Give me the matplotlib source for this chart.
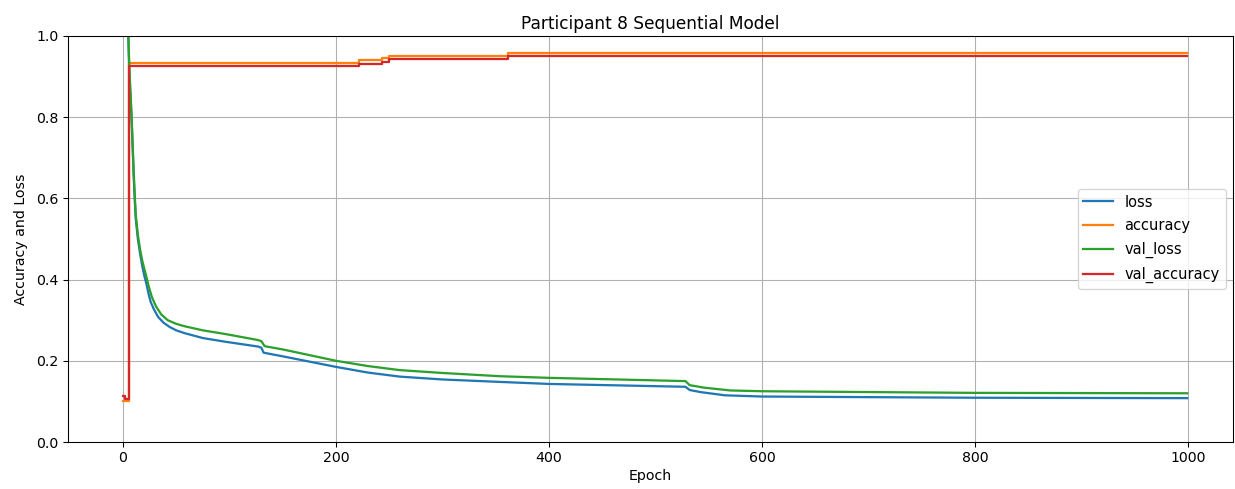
import matplotlib
matplotlib.use("Agg")
from matplotlib import pyplot as plt

loss_epochs = [0, 2, 4, 6, 8, 10, 11, 12, 14, 16, 18, 20, 22, 24, 26, 29, 33, 38,
               44, 50, 58, 75, 96, 127, 130, 132, 150, 200, 230, 260, 300, 354,
               400, 528, 532, 542, 565, 600, 800, 999]
loss = [2.6, 1.9, 1.1, 0.9, 0.8, 0.66, 0.6, 0.55, 0.5, 0.465, 0.435, 0.41, 0.39,
        0.365, 0.345, 0.327, 0.308, 0.294, 0.283, 0.275, 0.268, 0.256, 0.247, 0.235,
        0.232, 0.220, 0.211, 0.185, 0.171, 0.161, 0.154, 0.148, 0.143, 0.136,
        0.128, 0.123, 0.115, 0.112, 0.109, 0.108]

val_loss_epochs = [0, 2, 4, 6, 8, 10, 11, 12, 14, 16, 18, 20, 22, 24, 27, 31, 36,
                   42, 50, 58, 75, 96, 127, 130, 133, 150, 200, 230, 260, 300,
                   354, 400, 528, 532, 545, 570, 600, 800, 999]
val_loss = [2.5, 1.85, 1.1, 0.92, 0.81, 0.67, 0.61, 0.56, 0.51, 0.475, 0.448,
            0.427, 0.407, 0.385, 0.358, 0.334, 0.314, 0.3, 0.291, 0.285, 0.275,
            0.266, 0.251, 0.248, 0.236, 0.228, 0.200, 0.187, 0.177, 0.170,
            0.162, 0.158, 0.150, 0.140, 0.134, 0.127, 0.125, 0.121, 0.120]

acc_epochs = [0, 6, 222, 243, 250, 361, 999]
accuracy = [0.100, 0.934, 0.941, 0.945, 0.951, 0.957, 0.957]

val_acc_epochs = [0, 2, 6, 222, 243, 250, 361, 999]
val_accuracy = [0.113, 0.106, 0.926, 0.932, 0.936, 0.943, 0.951, 0.951]


def plot_history():
    plt.rcParams["font.size"] = 10.6
    plt.rcParams["lines.linewidth"] = 1.7

    fig = plt.figure(figsize=(1235 / 96, 489 / 96), dpi=96)
    ax = fig.add_axes([68 / 1235, 47 / 489, 1165 / 1235, 406 / 489])

    ax.plot(loss_epochs, loss, label="loss")
    ax.plot(acc_epochs, accuracy, drawstyle="steps-post", label="accuracy")
    ax.plot(val_loss_epochs, val_loss, label="val_loss")
    ax.plot(val_acc_epochs, val_accuracy, drawstyle="steps-post", label="val_accuracy")

    ax.set_xlim(-51.6, 1042)
    ax.set_ylim(0, 1)
    ax.grid(True)
    ax.set_title("Participant 8 Sequential Model", pad=5)
    ax.set_xlabel("Epoch", labelpad=3)
    ax.set_ylabel("Accuracy and Loss", labelpad=6)
    ax.legend(loc="center right", fontsize=11, labelspacing=0.6)

    fig.savefig("out.png", dpi=96)


if __name__ == '__main__':
    plot_history()
